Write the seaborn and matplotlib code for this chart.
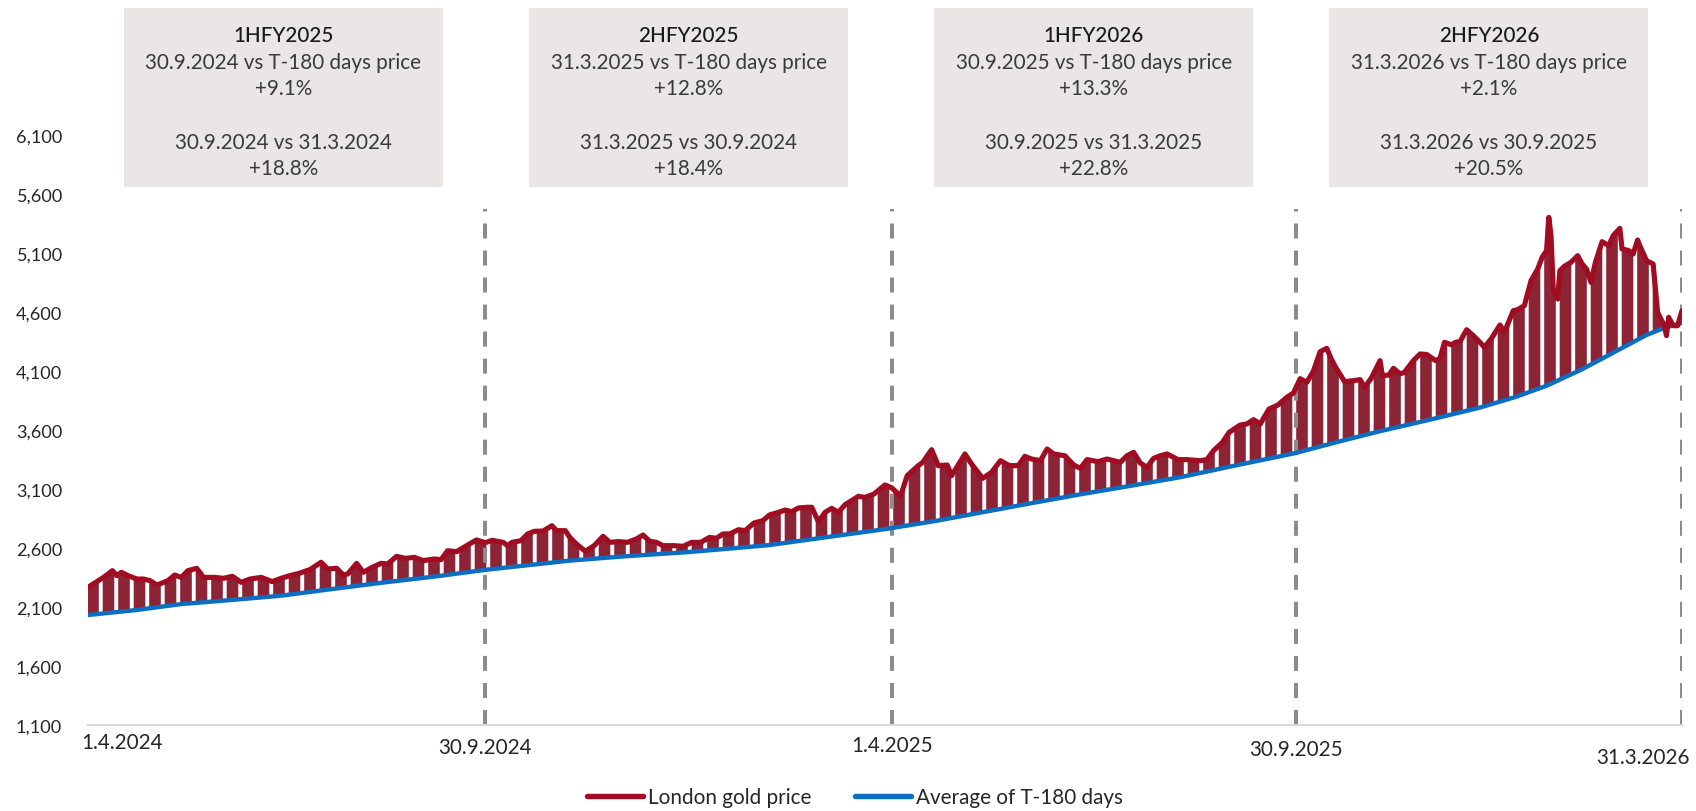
import numpy as np
import pandas as pd
import matplotlib
matplotlib.use("Agg")
import matplotlib.pyplot as plt
import matplotlib.dates as mdates
import matplotlib.transforms as mtransforms
from matplotlib.patches import Rectangle
from matplotlib.lines import Line2D
import seaborn as sns

# ---------------------------------------------------------------- data
start = pd.Timestamp("2024-04-01")

# London gold price (USD/oz), days counted from 1.4.2024
gold_day = [3, 10, 14, 16, 18, 21, 25, 28, 31, 34, 39, 42, 45, 48, 52, 55, 60, 64, 68, 72,
            76, 81, 86, 90, 94, 98, 103, 108, 111, 115, 118, 120, 124, 127, 131, 135, 138,
            142, 146, 150, 154, 159, 162, 165, 169, 174, 178, 182, 185, 188, 190, 192, 194,
            198, 201, 204, 208, 212, 214, 218, 220, 223, 227, 231, 235, 238, 242, 246, 250,
            253, 256, 259, 262, 267, 271, 275, 279, 283, 286, 289, 292, 296, 299, 303, 307,
            310, 314, 317, 320, 323, 327, 329, 332, 335, 338, 341, 344, 350, 353, 357, 362,
            365, 369, 372, 377, 379, 383, 386, 390, 392, 398, 401, 406, 410, 414, 418, 422,
            425, 428, 432, 435, 438, 443, 447, 450, 453, 458, 462, 468, 471, 474, 477, 480,
            483, 486, 489, 494, 498, 504, 507, 510, 514, 517, 522, 525, 528, 531, 535, 539,
            543, 546, 549, 552, 555, 558, 561, 563, 565, 569, 573, 576, 578, 581, 585, 586,
            589, 591, 594, 596, 600, 603, 606, 610, 612, 614, 617, 619, 621, 624, 627, 630,
            632, 635, 639, 641, 645, 647, 650, 653, 656, 658, 660, 661, 662, 663, 665, 666,
            668, 671, 674, 676, 678, 680, 682, 685, 688, 690, 693, 694, 697, 699, 701, 702,
            705, 708, 710, 713, 714, 715, 717, 719, 721]
gold_price = [2267, 2351, 2408, 2366, 2394, 2366, 2337, 2337, 2323, 2286, 2323, 2371, 2351,
              2408, 2428, 2351, 2351, 2343, 2360, 2309, 2337, 2351, 2315, 2343, 2366, 2385,
              2417, 2479, 2422, 2428, 2371, 2380, 2470, 2394, 2436, 2470, 2465, 2529, 2512,
              2521, 2493, 2507, 2501, 2577, 2569, 2625, 2668, 2645, 2665, 2655, 2648, 2620,
              2648, 2662, 2719, 2741, 2744, 2789, 2747, 2747, 2690, 2634, 2572, 2620, 2699,
              2648, 2654, 2648, 2676, 2710, 2657, 2648, 2620, 2620, 2614, 2648, 2648, 2690,
              2682, 2719, 2719, 2755, 2747, 2812, 2832, 2880, 2902, 2922, 2908, 2939, 2945,
              2945, 2823, 2902, 2936, 2902, 2967, 3038, 3029, 3057, 3134, 3110, 3040, 3213,
              3298, 3326, 3433, 3298, 3303, 3213, 3397, 3312, 3190, 3241, 3340, 3298, 3298,
              3377, 3354, 3340, 3439, 3397, 3382, 3303, 3275, 3349, 3332, 3354, 3326, 3382,
              3411, 3320, 3284, 3360, 3382, 3397, 3349, 3349, 3340, 3349, 3425, 3495, 3580,
              3642, 3651, 3688, 3651, 3778, 3812, 3877, 3914, 4035, 4004, 4100, 4264, 4292,
              4202, 4131, 4010, 4018, 4027, 3962, 4038, 4188, 4061, 4066, 4123, 4075, 4089,
              4188, 4244, 4240, 4188, 4207, 4343, 4323, 4343, 4349, 4450, 4399, 4343, 4301,
              4371, 4490, 4428, 4611, 4620, 4654, 4866, 4964, 5063, 5120, 5402, 5247, 4795,
              4710, 4950, 4987, 5021, 5077, 5007, 4964, 4851, 5021, 5196, 5162, 5247, 5309,
              5134, 5120, 5092, 5210, 5162, 5035, 5007, 4597, 4484, 4400, 4555, 4484, 4484,
              4611]

# Average of the preceding 180 days
avg_day = [3, 25, 45, 68, 90, 112, 135, 160, 182, 220, 245, 273, 292, 310, 335, 362, 385,
           405, 428, 450, 472, 495, 520, 547, 566, 585, 608, 630, 646, 660, 676, 690, 705,
           713, 721]
avg_price = [2032, 2075, 2125, 2160, 2196, 2250, 2305, 2360, 2415, 2493, 2530, 2565, 2595,
             2625, 2690, 2760, 2830, 2900, 2980, 3055, 3125, 3200, 3300, 3405, 3500, 3590,
             3690, 3790, 3880, 3975, 4115, 4255, 4405, 4465, 4507]

# Half-year boundaries and their labels
period_day = [0, 182, 365, 547, 721]
period_label = ["1.4.2024", "30.9.2024", "1.4.2025", "30.9.2025", "31.3.2026"]

# Summary panels, one per half-year
box_title = ["1HFY2025", "2HFY2025", "1HFY2026", "2HFY2026"]
box_t180_text = ["30.9.2024 vs T-180 days price", "31.3.2025 vs T-180 days price",
                 "30.9.2025 vs T-180 days price", "31.3.2026 vs T-180 days price"]
box_t180_change = ["+9.1%", "+12.8%", "+13.3%", "+2.1%"]
box_hoh_text = ["30.9.2024 vs 31.3.2024", "31.3.2025 vs 30.9.2024",
                "30.9.2025 vs 31.3.2025", "31.3.2026 vs 30.9.2025"]
box_hoh_change = ["+18.8%", "+18.4%", "+22.8%", "+20.5%"]

y_ticks = [1100, 1600, 2100, 2600, 3100, 3600, 4100, 4600, 5100, 5600, 6100]
series_names = ["London gold price", "Average of T-180 days"]

# ---------------------------------------------------------------- style
W, H, DPI = 1696, 812, 93
sns.set_theme(style="white")
plt.rcParams["font.family"] = ["Lato", "DejaVu Sans"]
plt.rcParams["hatch.linewidth"] = 3.0

RED = "#A00C22"
BLUE = "#0A6FC2"
SPREAD = "#8C2436"
DASH = "#8C8C8C"
TEXT = "#262626"
PANEL = "#E9E6E5"


def fx(px):
    return px / W


def fy(py):
    return 1 - py / H


fig = plt.figure(figsize=(W / DPI, H / DPI), dpi=DPI)
ax = fig.add_axes([fx(88), fy(726), fx(1682) - fx(88), fy(136) - fy(726)])
ax.patch.set_visible(False)

gold = pd.DataFrame({"date": start + pd.to_timedelta(gold_day, unit="D"),
                     "price": gold_price})
avg = pd.DataFrame({"date": start + pd.to_timedelta(avg_day, unit="D"),
                    "price": avg_price})

# lines
sns.lineplot(data=avg, x="date", y="price", color=BLUE, linewidth=3.4, ax=ax,
             errorbar=None, legend=False, zorder=3,
             solid_capstyle="round", solid_joinstyle="round")
sns.lineplot(data=gold, x="date", y="price", color=RED, linewidth=4.0, ax=ax,
             errorbar=None, legend=False, zorder=4,
             solid_capstyle="round", solid_joinstyle="round")

# striped spread between price and its 180-day average
poly_x = np.concatenate([gold["date"].values, avg["date"].values[::-1]])
poly_y = np.concatenate([gold["price"].values, avg["price"].values[::-1]])
ax.fill(poly_x, poly_y, facecolor=SPREAD, edgecolor="white", hatch="|",
        linewidth=0, zorder=1)

# half-year markers
period_dates = [start + pd.Timedelta(days=d) for d in period_day]
for d in period_dates[1:]:
    ax.axvline(d, ymin=0, ymax=(726 - 210) / 590, color=DASH, linewidth=3.1,
               dashes=(3.75, 3.0), zorder=2)

ax.set_xlim(start + pd.Timedelta(days=3), start + pd.Timedelta(days=721))
ax.set_ylim(1100, 6100)
ax.set_xlabel("")
ax.set_ylabel("")
ax.set_xticks([])
ax.set_yticks(y_ticks)
ax.set_yticklabels([f"{v:,}" for v in y_ticks], fontsize=14, color=TEXT)
ax.tick_params(axis="y", length=0, pad=20)
for side in ["left", "right", "top"]:
    ax.spines[side].set_visible(False)
ax.spines["bottom"].set_color("#D9D9D9")
ax.spines["bottom"].set_linewidth(1.6)

# date labels under the axis
blend = mtransforms.blended_transform_factory(ax.transData, fig.transFigure)
label_y = [743, 748, 746, 750, 758]
label_ha = ["left", "center", "center", "center", "right"]
label_dx = [0, 0, 0, 0, 8]
for d, lab, yy, ha, dx in zip(period_dates, period_label, label_y, label_ha, label_dx):
    tr = blend + mtransforms.ScaledTranslation(dx / DPI, 0, fig.dpi_scale_trans)
    ax.text(d, fy(yy), lab, transform=tr, ha=ha, va="center", fontsize=16,
            color=TEXT, clip_on=False)

# summary panels centred on each half-year
box_w, box_top, box_bottom = 319, 9, 188
line_y = [36, 63, 89, 143, 169]
for i in range(4):
    mid = start + pd.Timedelta(days=(period_day[i] + period_day[i + 1]) / 2)
    cx = ax.transData.transform((mdates.date2num(mid), 1100))[0]
    fig.add_artist(Rectangle((fx(cx - box_w / 2), fy(box_bottom)), fx(box_w),
                             fy(box_top) - fy(box_bottom), transform=fig.transFigure,
                             facecolor=PANEL, edgecolor="none", zorder=-1))
    lines = [box_title[i], box_t180_text[i], box_t180_change[i],
             box_hoh_text[i], box_hoh_change[i]]
    for j, (txt, yy) in enumerate(zip(lines, line_y)):
        fig.text(fx(cx), fy(yy), txt, ha="center", va="center", fontsize=16,
                 fontweight="medium" if j == 0 else "normal",
                 color="#1A1A1A" if j == 0 else "#3A3A3A", zorder=5)

# legend
handles = [Line2D([], [], color=RED, linewidth=4.2, solid_capstyle="round"),
           Line2D([], [], color=BLUE, linewidth=4.2, solid_capstyle="round")]
fig.legend(handles, series_names, loc="center", bbox_to_anchor=(fx(855), fy(798)),
           ncol=2, frameon=False, fontsize=16, handlelength=2.7, handletextpad=0.25,
           columnspacing=2.1, labelcolor=TEXT)

fig.savefig("out.png", dpi=DPI)
